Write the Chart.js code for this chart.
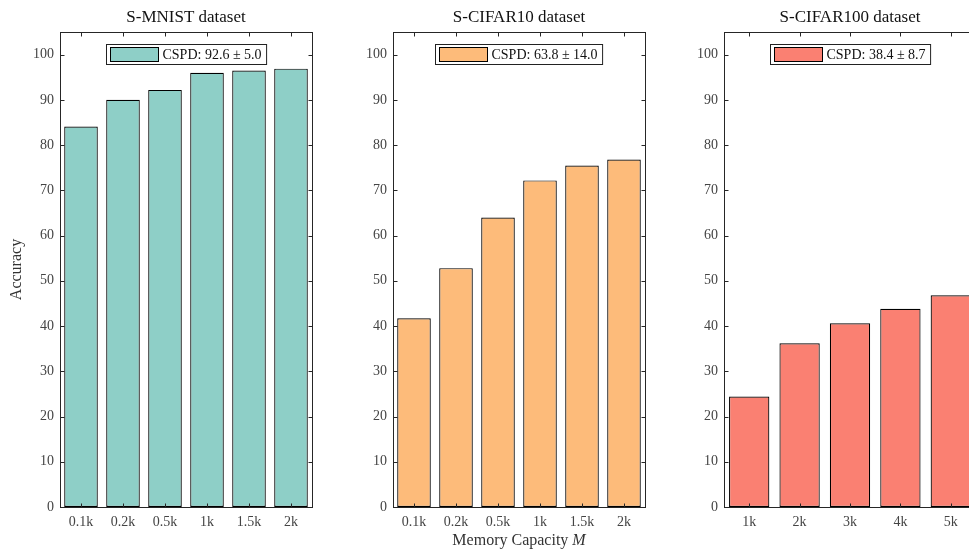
<!DOCTYPE html>
<html>
<head>
<meta charset="utf-8">
<script src="https://cdn.jsdelivr.net/npm/chart.js@4.4.0/dist/chart.umd.min.js"></script>
<style>
  html, body { margin: 0; padding: 0; background: #fff; overflow: hidden; width: 969px; height: 549px; }
  canvas { position: absolute; top: 0; }
</style>
</head>
<body>
<canvas id="c1" width="320" height="549" style="left:0px"></canvas>
<canvas id="c2" width="300" height="549" style="left:353px"></canvas>
<canvas id="c3" width="300" height="549" style="left:684px"></canvas>
<script>
// data
const memSmall = ['0.1k', '0.2k', '0.5k', '1k', '1.5k', '2k'];
const memLarge = ['1k', '2k', '3k', '4k', '5k'];
const mnistAcc = [84.1, 90.0, 92.2, 96.0, 96.5, 96.9];
const cifar10Acc = [41.7, 52.8, 64.0, 72.2, 75.5, 76.8];
const cifar100Acc = [24.4, 36.2, 40.6, 43.8, 46.8];
const yTickValues = [0, 10, 20, 30, 40, 50, 60, 70, 80, 90, 100];
const panelTitles = ['S-MNIST dataset', 'S-CIFAR10 dataset', 'S-CIFAR100 dataset'];
const legendLabels = ['CSPD: 92.6 \u00b1 5.0', 'CSPD: 63.8 \u00b1 14.0', 'CSPD: 38.4 \u00b1 8.7'];
const barColors = ['#8ecfc7', '#fdbb7a', '#fa8072'];

const FONT = '"Liberation Serif", "DejaVu Serif", serif';
const AXIS_COLOR = '#262626';

// box, inward ticks, title, legend, axis labels (matlab look)
const matlabFrame = {
    id: 'matlabFrame',
    afterDraw(chart, args, opts) {
        const { ctx, chartArea: a, scales: { x, y } } = chart;
        const L = Math.round(a.left) + 0.5, R = Math.round(a.right) + 0.5;
        const T = Math.round(a.top) + 0.5, B = Math.round(a.bottom) + 0.5;
        ctx.save();
        ctx.strokeStyle = AXIS_COLOR;
        ctx.lineWidth = 1;
        ctx.strokeRect(L, T, R - L, B - T);

        ctx.beginPath();
        y.ticks.forEach(t => {
            const py = Math.round(y.getPixelForValue(t.value)) + 0.5;
            ctx.moveTo(L, py); ctx.lineTo(L + 4, py);
            ctx.moveTo(R, py); ctx.lineTo(R - 4, py);
        });
        x.ticks.forEach((t, i) => {
            const px = Math.round(x.getPixelForTick(i)) + 0.5;
            ctx.moveTo(px, T); ctx.lineTo(px, T + 4);
            ctx.moveTo(px, B); ctx.lineTo(px, B - 4);
        });
        ctx.stroke();

        const cx = (a.left + a.right) / 2;
        ctx.fillStyle = '#111';
        ctx.font = '17px ' + FONT;
        ctx.textAlign = 'center';
        ctx.textBaseline = 'middle';
        ctx.fillText(opts.title, cx, 18);

        // legend box
        ctx.font = '14px ' + FONT;
        const tw = ctx.measureText(opts.legend).width;
        const sw = 48, h = 20;
        const w = 4 + sw + 4 + tw + 5;
        const lx = Math.round(cx - w / 2) + 0.5, ly = Math.round(a.top + 12) + 0.5;
        ctx.fillStyle = '#fff';
        ctx.fillRect(lx, ly, w, h);
        ctx.strokeStyle = '#222';
        ctx.strokeRect(lx, ly, w, h);
        ctx.fillStyle = opts.color;
        ctx.fillRect(lx + 4, ly + 3, sw, h - 6);
        ctx.strokeStyle = '#000';
        ctx.strokeRect(lx + 4, ly + 3, sw, h - 6);
        ctx.fillStyle = '#111';
        ctx.textAlign = 'left';
        ctx.fillText(opts.legend, lx + 4 + sw + 4, ly + h / 2 + 1);

        if (opts.ylabel) {
            ctx.save();
            ctx.translate(17, (a.top + a.bottom) / 2);
            ctx.rotate(-Math.PI / 2);
            ctx.textAlign = 'center';
            ctx.font = '16px ' + FONT;
            ctx.fillStyle = '#333';
            ctx.fillText(opts.ylabel, 0, 0);
            ctx.restore();
        }
        if (opts.xlabel) {
            ctx.font = '16px ' + FONT;
            const main = opts.xlabel + ' ';
            const mw = ctx.measureText(main).width;
            ctx.font = 'italic 16px ' + FONT;
            const iw = ctx.measureText('M').width;
            const sx = cx - (mw + iw) / 2;
            ctx.fillStyle = '#333';
            ctx.textAlign = 'left';
            ctx.font = '16px ' + FONT;
            ctx.fillText(main, sx, 541);
            ctx.font = 'italic 16px ' + FONT;
            ctx.fillText('M', sx + mw, 541);
        }
        ctx.restore();
    }
};

function makePanel(id, labels, values, idx, yWidth, extra) {
    const ctx = document.getElementById(id).getContext('2d');
    return new Chart(ctx, {
        type: 'bar',
        data: {
            labels: labels,
            datasets: [{
                data: values,
                backgroundColor: barColors[idx],
                borderColor: '#000',
                borderWidth: 1.2,
                borderSkipped: false,
                barPercentage: 0.8,
                categoryPercentage: 1.0
            }]
        },
        options: {
            responsive: false,
            animation: false,
            layout: { padding: { top: 32, right: 8, left: 0, bottom: 0 } },
            scales: {
                x: {
                    grid: { display: false, drawTicks: false },
                    border: { display: false },
                    ticks: { color: '#444', font: { family: FONT, size: 14 }, padding: 7, maxRotation: 0 },
                    afterFit: s => { s.height = 42; }
                },
                y: {
                    min: 0,
                    max: 105,
                    grid: { display: false, drawTicks: false },
                    border: { display: false },
                    ticks: { color: '#444', font: { family: FONT, size: 14 }, padding: 6 },
                    afterBuildTicks: s => { s.ticks = yTickValues.map(v => ({ value: v })); },
                    afterFit: s => { s.width = yWidth; }
                }
            },
            plugins: {
                legend: { display: false },
                tooltip: { enabled: false },
                matlabFrame: Object.assign({
                    title: panelTitles[idx],
                    legend: legendLabels[idx],
                    color: barColors[idx]
                }, extra)
            }
        },
        plugins: [matlabFrame]
    });
}

makePanel('c1', memSmall, mnistAcc, 0, 60, { ylabel: 'Accuracy' });
makePanel('c2', memSmall, cifar10Acc, 1, 40, { xlabel: 'Memory Capacity' });
makePanel('c3', memLarge, cifar100Acc, 2, 40, {});
</script>
</body>
</html>
